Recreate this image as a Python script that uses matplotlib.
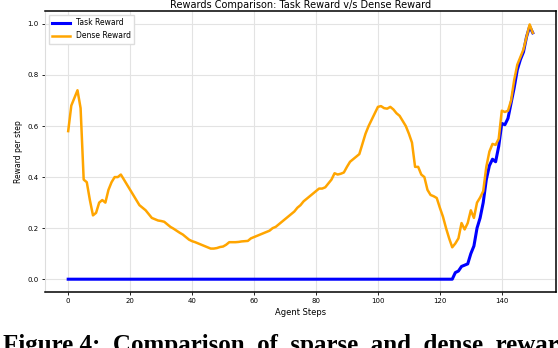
import numpy as np
import matplotlib.pyplot as plt

# Reward values, one per agent step (0..150)
steps = np.arange(151)

dense_reward = [
    0.58, 0.68, 0.71, 0.74, 0.67, 0.39, 0.38, 0.31, 0.25, 0.26,
    0.30, 0.31, 0.30, 0.35, 0.38, 0.40, 0.40, 0.41, 0.39, 0.37,
    0.35, 0.33, 0.31, 0.29, 0.28, 0.27, 0.255, 0.24, 0.235, 0.23,
    0.228, 0.225, 0.215, 0.205, 0.198, 0.19, 0.182, 0.175, 0.165, 0.155,
    0.149, 0.145, 0.14, 0.135, 0.13, 0.125, 0.12, 0.12, 0.122, 0.126,
    0.128, 0.135, 0.145, 0.145, 0.145, 0.146, 0.148, 0.149, 0.15, 0.16,
    0.165, 0.17, 0.175, 0.18, 0.185, 0.19, 0.20, 0.205, 0.215, 0.225,
    0.235, 0.245, 0.255, 0.265, 0.28, 0.29, 0.305, 0.315, 0.325, 0.335,
    0.345, 0.355, 0.355, 0.36, 0.375, 0.39, 0.415, 0.41, 0.413, 0.418,
    0.44, 0.46, 0.47, 0.48, 0.49, 0.53, 0.57, 0.60, 0.625, 0.65,
    0.675, 0.678, 0.67, 0.668, 0.675, 0.665, 0.65, 0.64, 0.62, 0.60,
    0.57, 0.535, 0.44, 0.44, 0.41, 0.40, 0.35, 0.33, 0.325, 0.318,
    0.28, 0.245, 0.20, 0.16, 0.125, 0.14, 0.16, 0.22, 0.195, 0.22,
    0.27, 0.24, 0.30, 0.32, 0.345, 0.44, 0.50, 0.53, 0.526, 0.55,
    0.66, 0.655, 0.66, 0.70, 0.78, 0.84, 0.87, 0.90, 0.95, 0.998,
    0.965,
]

task_reward = [0.0] * 125 + [
    0.026, 0.032, 0.05, 0.055, 0.06, 0.10, 0.13, 0.20, 0.24, 0.30,
    0.39, 0.445, 0.47, 0.46, 0.52, 0.61, 0.605, 0.63, 0.69, 0.75,
    0.82, 0.86, 0.89, 0.95, 0.99, 0.965,
]

fig = plt.figure(figsize=(5.58, 3.48), dpi=100)
ax = fig.add_axes([0.0806, 0.161, 0.9158, 0.807])

ax.plot(steps, task_reward, color='blue', linewidth=2.2, label='Task Reward')
ax.plot(steps, dense_reward, color='orange', linewidth=1.8, label='Dense Reward')

ax.set_xlim(-7.5, 157.5)
ax.set_ylim(-0.05, 1.05)
ax.set_xticks([0, 20, 40, 60, 80, 100, 120, 140])
ax.set_yticks([0.0, 0.2, 0.4, 0.6, 0.8, 1.0])
ax.tick_params(labelsize=5, length=2.5, width=0.6, pad=2)
ax.grid(True, color='#e3e3e3', linewidth=0.8)
ax.set_axisbelow(True)

for side in ['top', 'right', 'bottom']:
    ax.spines[side].set_color('black')
    ax.spines[side].set_linewidth(1.1)
ax.spines['left'].set_color('#dddddd')

ax.set_xlabel('Agent Steps', fontsize=6, labelpad=3)
ax.set_ylabel('Reward per step', fontsize=5.5, labelpad=3)
ax.set_title('Rewards Comparison: Task Reward v/s Dense Reward', fontsize=7, pad=2)
ax.legend(loc='upper left', fontsize=5.5, handlelength=2.3, borderpad=0.45,
          framealpha=1.0, edgecolor='#dddddd', fancybox=False)

# caption of the page, cut off at the bottom edge as in the reference
fig.text(0.005, 1 - 334 / 348, 'Figure 4:  Comparison  of  sparse  and  dense  rewards  per  step',
         fontsize=18, fontweight='bold', family='Liberation Serif', va='top', ha='left')

fig.savefig('out.png', dpi=100)
